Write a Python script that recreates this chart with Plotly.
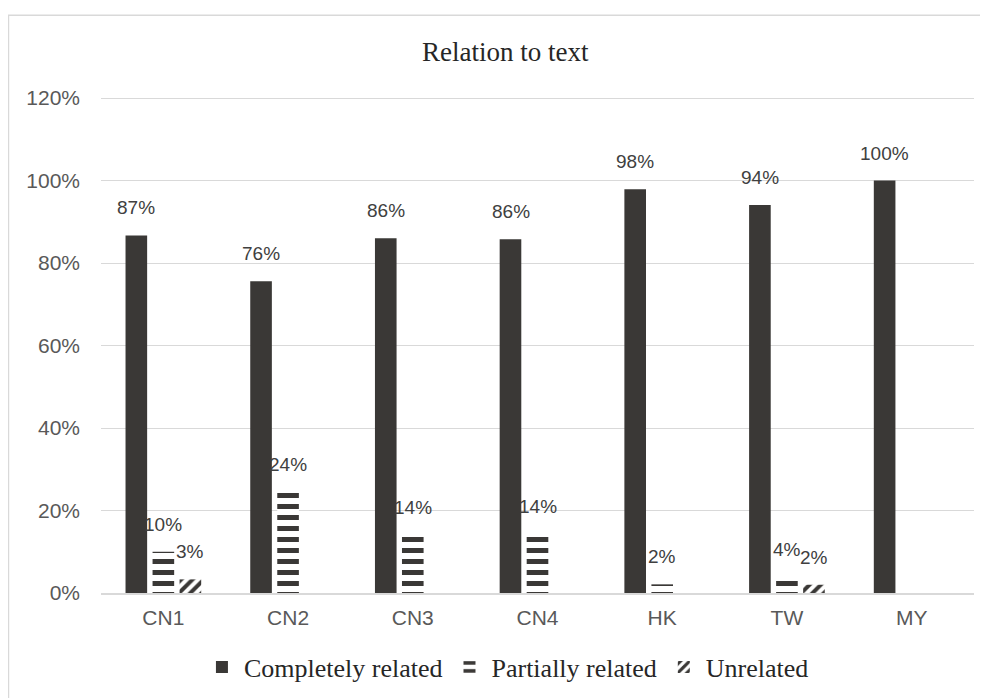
import plotly.graph_objects as go

categories = ["CN1", "CN2", "CN3", "CN4", "HK", "TW", "MY"]
completely_related = [86.7, 75.6, 86.0, 85.8, 97.9, 94.1, 100.0]
partially_related = [10.0, 24.4, 14.0, 14.2, 2.1, 3.9, 0.0]
unrelated = [3.3, 0.0, 0.0, 0.0, 0.0, 2.0, 0.0]
series_names = ["Completely related", "Partially related", "Unrelated"]
y_ticks = [0, 20, 40, 60, 80, 100, 120]
y_tick_labels = [f"{v}%" for v in y_ticks]

DARK = "#3a3836"
series = [completely_related, partially_related, unrelated]
patterns = [
    dict(shape=""),
    dict(shape="-", size=11, solidity=0.45, fgcolor=DARK, bgcolor="white", fillmode="replace"),
    dict(shape="/", size=8, solidity=0.5, fgcolor=DARK, bgcolor="white", fillmode="replace"),
]

fig = go.Figure()
for name, vals, pat in zip(series_names, series, patterns):
    marker = dict(color=DARK if pat["shape"] == "" else "white", line=dict(width=0))
    if pat["shape"]:
        marker["pattern"] = pat
    fig.add_trace(go.Bar(x=categories, y=vals, name=name, marker=marker))

# data labels placed above each bar
shifts = [-27, 0, 27]
for vals, xs in zip(series, shifts):
    for c, v in zip(categories, vals):
        if v:
            fig.add_annotation(
                x=c, y=v, xref="x", yref="y", xshift=xs, yshift=15,
                text=f"{v:.0f}%", showarrow=False, yanchor="bottom",
                font=dict(family="Liberation Sans, Arial, sans-serif", size=19, color="#404040"),
            )

# outer chart border
fig.add_shape(type="rect", xref="paper", yref="paper",
              x0=-0.106, x1=1.04, y0=-0.3, y1=1.158,
              line=dict(color="#d9d9d9", width=1.5), fillcolor="rgba(0,0,0,0)", layer="below")

fig.update_layout(
    width=980, height=690,
    margin=dict(l=93, r=14, t=86, b=105),
    paper_bgcolor="white", plot_bgcolor="white",
    barmode="group", bargap=0.35, bargroupgap=0.2,
    title=dict(text="Relation to text", x=0.463, xref="paper", xanchor="center",
               y=1 - 44 / 690, yref="container", yanchor="middle",
               font=dict(family="Liberation Serif, Times New Roman, serif", size=27, color="#262626")),
    legend=dict(orientation="h", x=0.465, xanchor="center",
                y=1 - 659 / 690, yref="container", yanchor="middle",
                font=dict(family="Liberation Serif, Times New Roman, serif", size=26, color="#262626"),
                traceorder="normal", itemwidth=34),
    showlegend=True,
)
fig.update_xaxes(showline=True, linecolor="#d9d9d9", linewidth=1.5, ticks="",
                 tickfont=dict(family="Liberation Sans, Arial, sans-serif", size=21, color="#595959"),
                 ticklabelstandoff=5, automargin=False)
fig.update_yaxes(range=[0, 121], tickvals=y_ticks, ticktext=y_tick_labels, showgrid=True,
                 gridcolor="#d9d9d9", gridwidth=1.3, zeroline=False, ticks="",
                 tickfont=dict(family="Liberation Sans, Arial, sans-serif", size=21, color="#595959"),
                 ticklabelstandoff=20, automargin=False)

fig.write_html("out.html")
